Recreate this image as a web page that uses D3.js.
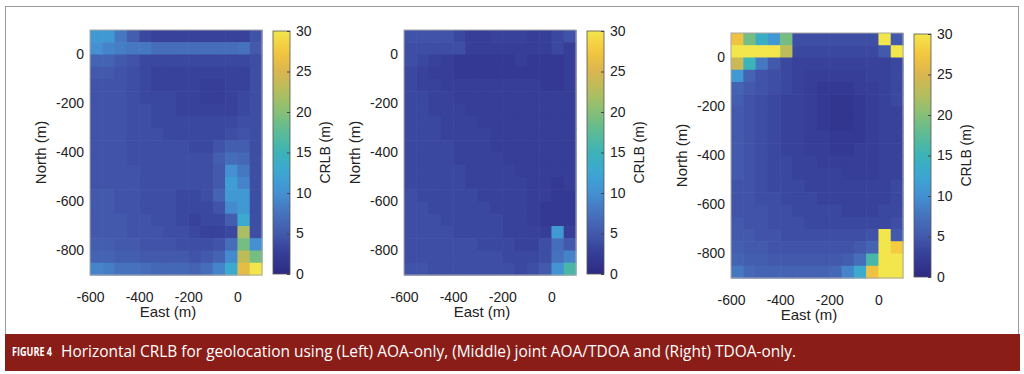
<!DOCTYPE html>
<html>
<head>
<meta charset="utf-8">
<script src="https://cdn.jsdelivr.net/npm/d3@7"></script>
<style>
  html, body { margin: 0; padding: 0; background: #fff; }
  svg { display: block; }
  text { font-family: "Liberation Sans", Arial, sans-serif; fill: #222; }
</style>
</head>
<body>
<svg id="fig" width="1024" height="374"></svg>
<script>
// cell lower-left corners (m)
const eastCells = [-600, -550, -500, -450, -400, -350, -300, -250, -200, -150, -100, -50, 0, 50];
const northCells = [50, 0, -50, -100, -150, -200, -250, -300, -350, -400, -450, -500, -550, -600, -650, -700, -750, -800, -850, -900];

const eastTicks = [-600, -400, -200, 0];
const northTicks = [-800, -600, -400, -200, 0];
const crlbTicks = [0, 5, 10, 15, 20, 25, 30];

// CRLB (m), one row per north cell (top to bottom), one value per east cell
const aoaOnly = [
  [11, 11, 8, 5.5, 3.5, 3, 3, 3, 3, 3, 3, 3, 3, 4.5],
  [10, 9, 8.5, 8, 8, 7, 7, 7, 7, 7, 7, 7, 7.5, 5],
  [6, 6, 5, 4.5, 3.5, 3.5, 3.5, 3.5, 3.5, 3.5, 3.5, 3.5, 3.5, 4],
  [5, 5, 4.5, 4, 3.5, 3, 3, 3, 3, 3, 3, 3, 3, 4],
  [4.5, 4.5, 4.5, 4, 3.5, 3, 3, 3, 3, 2.5, 2.5, 3, 3, 4],
  [4.5, 4.5, 4.5, 4, 3.5, 3.5, 3.5, 3, 3, 2.5, 2.5, 3, 3.5, 4],
  [4.5, 4.5, 4.5, 4, 4, 3.5, 3.5, 3, 3, 3, 3, 3, 3.5, 4],
  [4.5, 4.5, 4.5, 4, 4, 3.5, 3.5, 3.5, 3.5, 3.5, 3.5, 3.5, 4, 4],
  [4.5, 4.5, 4.5, 4, 4, 4, 3.5, 3.5, 3.5, 3.5, 3.5, 4, 4.5, 4],
  [4.5, 4.5, 4.5, 4, 4, 4, 4, 4, 3.5, 3.5, 4.5, 5.5, 5.5, 4],
  [4.5, 4.5, 4.5, 4, 4, 4, 4, 4, 4, 4, 5.5, 7, 6.5, 4],
  [4.5, 4.5, 4.5, 4.5, 4, 4, 4, 4, 4, 4, 5, 10, 8, 4],
  [4.5, 4.5, 4.5, 4.5, 4, 4, 4, 4, 4, 4, 5, 11.5, 9, 4],
  [5, 5, 4.5, 4.5, 4, 4, 4, 3.5, 3.5, 4, 6, 11, 11, 4],
  [5, 5, 4.5, 4.5, 4, 4, 4, 3.5, 3.5, 3.5, 4.5, 9.5, 11, 4],
  [5, 5, 5, 4.5, 4.5, 4, 4, 3.5, 3, 3.5, 3.5, 5.5, 13, 4],
  [5, 5, 5, 4.5, 4.5, 4.5, 4, 4, 3.5, 3, 3, 3.5, 22, 4],
  [5.5, 5.5, 5, 5, 4.5, 4.5, 4.5, 4, 4, 4, 4.5, 7, 19, 10],
  [6, 6, 5.5, 5.5, 5, 5, 5, 5, 4.5, 5, 6, 9.5, 23, 19],
  [9, 8.5, 7.5, 7.5, 7, 6.5, 6.5, 6.5, 6, 7, 9, 13, 26, 30]
];

const jointAoaTdoa = [
  [4.5, 4.5, 4.5, 4.5, 3.5, 2.5, 2.5, 3, 3, 3, 2.5, 2.5, 3.5, 4.5],
  [4, 4, 4, 4, 4, 2.5, 2.5, 2.5, 2.5, 2.5, 2.5, 2.5, 3.5, 2.5],
  [4, 3.5, 3, 2.5, 2, 2, 2, 2, 2, 2.5, 2, 2, 2, 2.5],
  [3.5, 3, 2.5, 2.5, 2, 2, 2, 2, 2, 2, 2, 2, 2, 2.5],
  [3.5, 3, 3, 2.5, 2.5, 2.5, 2.5, 2.5, 2.5, 2.5, 2.5, 2, 2, 2.5],
  [3.5, 3.5, 3, 3, 2.5, 2.5, 2.5, 2.5, 2.5, 2.5, 2.5, 2.5, 2.5, 2.5],
  [3.5, 3.5, 3, 3, 3, 2.5, 2.5, 2.5, 2.5, 2.5, 2.5, 2.5, 2.5, 2.5],
  [3.5, 3.5, 3.5, 3, 3, 3, 2.5, 2.5, 2.5, 2.5, 2.5, 2.5, 2.5, 2.5],
  [3.5, 3.5, 3.5, 3, 3, 3, 3, 2.5, 2.5, 2.5, 2.5, 2.5, 2.5, 2.5],
  [3.5, 3.5, 3.5, 3.5, 3, 3, 3, 2.5, 2.5, 2.5, 2.5, 2.5, 2.5, 2.5],
  [3.5, 3.5, 3.5, 3.5, 3, 3, 3, 3, 2.5, 2.5, 2.5, 2.5, 2.5, 2.5],
  [3.5, 3.5, 3.5, 3.5, 3.5, 3, 3, 3, 3, 2.5, 2.5, 2.5, 2.5, 2.5],
  [3.5, 3.5, 3.5, 3.5, 3.5, 3, 3, 3, 3, 3, 2.5, 2.5, 2, 2.5],
  [4, 3.5, 3.5, 3.5, 3.5, 3.5, 3, 3, 3, 3, 2.5, 2.5, 2, 2],
  [4, 4, 3.5, 3.5, 3.5, 3.5, 3.5, 3, 3, 3, 2.5, 2, 2, 2],
  [4, 4, 4, 3.5, 3.5, 3.5, 3.5, 3.5, 3, 3, 2.5, 2, 2, 2],
  [4, 4, 4, 4, 3.5, 3.5, 3.5, 3.5, 3, 3, 3, 2.5, 11, 2.5],
  [4, 4, 4, 4, 4, 4, 3.5, 3.5, 3.5, 3, 3, 4, 7, 5],
  [4, 4, 4, 4, 4, 4, 4, 4, 3.5, 3.5, 3.5, 4, 7.5, 9],
  [4.5, 4.5, 4, 4, 4, 4, 4, 4, 4, 3.5, 4, 5, 10.5, 16]
];

const tdoaOnly = [
  [27, 19, 14, 11, 19, 4, 4, 4, 4, 4, 4, 4, 32, 5],
  [32, 32, 32, 32, 23, 3.5, 3.5, 3.5, 3.5, 3.5, 3.5, 3.5, 5, 32],
  [24, 15, 8, 5, 3.5, 3, 3, 3, 3, 3, 3, 3, 3, 3.5],
  [11, 6, 4.5, 4, 3.5, 3, 2.5, 2.5, 2.5, 2.5, 2.5, 3, 3, 3.5],
  [6, 5, 4.5, 4, 3.5, 3, 2.5, 2, 2, 2, 2.5, 2.5, 3, 3.5],
  [5.5, 4.5, 4, 3.5, 3, 3, 2.5, 2, 1.5, 1.5, 2, 2.5, 3, 3.5],
  [5, 4.5, 4, 3.5, 3, 3, 2.5, 2, 1.5, 1.5, 2, 2.5, 3, 3],
  [5, 4.5, 4, 3.5, 3, 3, 2.5, 2, 1.5, 1.5, 2, 2.5, 3, 3],
  [5, 4.5, 4, 3.5, 3, 3, 2.5, 2.5, 2, 2, 2, 2.5, 3, 3],
  [5, 4.5, 4, 3.5, 3, 3, 2.5, 2.5, 2, 2, 2.5, 2.5, 3, 3],
  [5, 4.5, 4, 3.5, 3.5, 3, 3, 2.5, 2.5, 2.5, 2.5, 2.5, 3, 3],
  [5, 4.5, 4, 3.5, 3.5, 3, 3, 3, 3, 2.5, 2.5, 2.5, 3, 3],
  [4.5, 4.5, 4, 3.5, 3.5, 3.5, 3, 3, 3, 3, 3, 3, 3, 3.5],
  [4.5, 4.5, 4, 4, 3.5, 3.5, 3.5, 3, 3, 3, 3, 3, 3, 3.5],
  [4.5, 4.5, 4.5, 4, 4, 3.5, 3.5, 3.5, 3.5, 3, 3, 3, 3.5, 3.5],
  [5, 4.5, 4.5, 4, 4, 4, 3.5, 3.5, 3.5, 3.5, 3.5, 3.5, 3.5, 4],
  [5, 5, 4.5, 4.5, 4, 4, 4, 4, 4, 4, 4, 4.5, 32, 5],
  [5.5, 5, 5, 4.5, 4.5, 4.5, 4.5, 4.5, 4.5, 4.5, 5, 6, 32, 28],
  [6, 5.5, 5.5, 5, 5, 5, 5, 5, 5, 5.5, 7, 16, 32, 32],
  [8, 6.5, 6, 6, 6, 6, 6, 6, 6.5, 9, 13, 27, 32, 32]
];

const captionLabel = "FIGURE 4";
const captionText = "Horizontal CRLB for geolocation using (Left) AOA-only, (Middle) joint AOA/TDOA and (Right) TDOA-only.";

// muted parula, as it looks in print
const colour = d3.scaleLinear()
  .domain([0, 3, 5, 7.5, 10, 12.5, 15, 17.5, 20, 22.5, 25, 27.5, 30])
  .range(["#2d2a83", "#38429b", "#4259ac", "#4672bd", "#4490d2", "#3ca6d4", "#3cb3b8",
          "#5cbb96", "#86bf77", "#b4be5e", "#dab64f", "#f4c63e", "#f2e64c"])
  .clamp(true);

// plain hyphen like the original figure
const fmt = d => String(d);

const svg = d3.select('#fig');

// outer frame
svg.append('rect')
  .attr('x', 5.5).attr('y', 6.5)
  .attr('width', 1013).attr('height', 330)
  .attr('fill', 'none')
  .attr('stroke', '#9a9a9a')
  .attr('stroke-width', 1);

const plotW = 172, plotH = 245;

function drawPanel(x0, y0, data, id) {
  const x = d3.scaleLinear().domain([-600, 100]).range([x0, x0 + plotW]);
  const y = d3.scaleLinear().domain([-900, 100]).range([y0 + plotH, y0]);

  const g = svg.append('g');

  // cells
  data.forEach((row, i) => {
    row.forEach((v, j) => {
      const e = eastCells[j], n = northCells[i];
      g.append('rect')
        .attr('x', x(e))
        .attr('y', y(n + 50))
        .attr('width', x(e + 50) - x(e) + 0.6)
        .attr('height', y(n) - y(n + 50) + 0.6)
        .attr('fill', colour(v));
    });
  });

  g.append('rect')
    .attr('x', x0).attr('y', y0)
    .attr('width', plotW).attr('height', plotH)
    .attr('fill', 'none')
    .attr('stroke', '#a8a8a8')
    .attr('stroke-width', 1);

  // axes
  const xAxis = g.append('g')
    .attr('transform', `translate(0,${y0 + plotH})`)
    .call(d3.axisBottom(x).tickValues(eastTicks).tickSize(0).tickPadding(17).tickFormat(fmt));
  xAxis.select('.domain').remove();
  xAxis.selectAll('text').style('font-size', '14px').attr('fill', '#222');

  const yAxis = g.append('g')
    .attr('transform', `translate(${x0},0)`)
    .call(d3.axisLeft(y).tickValues(northTicks).tickSize(0).tickPadding(6).tickFormat(fmt));
  yAxis.select('.domain').remove();
  yAxis.selectAll('text').style('font-size', '14px').attr('fill', '#222');

  g.append('text')
    .attr('x', x0 + plotW / 2 - 8)
    .attr('y', y0 + plotH + 42)
    .attr('text-anchor', 'middle')
    .style('font-size', '15px')
    .text('East (m)');

  g.append('text')
    .attr('transform', `translate(${x0 - 44},${y0 + plotH / 2}) rotate(-90)`)
    .attr('text-anchor', 'middle')
    .style('font-size', '15px')
    .text('North (m)');

  // colorbar
  const cbX = x0 + plotW + 11, cbW = 17;
  const c = d3.scaleLinear().domain([0, 30]).range([y0 + plotH - 1, y0 + 1]);

  const grad = svg.append('defs').append('linearGradient')
    .attr('id', 'cb' + id)
    .attr('x1', 0).attr('y1', 1).attr('x2', 0).attr('y2', 0);
  d3.range(0, 31, 1).forEach(v => {
    grad.append('stop').attr('offset', v / 30).attr('stop-color', colour(v));
  });

  g.append('rect')
    .attr('x', cbX).attr('y', c(30))
    .attr('width', cbW).attr('height', c(0) - c(30))
    .attr('fill', `url(#cb${id})`)
    .attr('stroke', '#555')
    .attr('stroke-width', 0.8);

  const cAxis = g.append('g')
    .attr('transform', `translate(${cbX + cbW},0)`)
    .call(d3.axisRight(c).tickValues(crlbTicks).tickSizeInner(-3).tickSizeOuter(0).tickPadding(6).tickFormat(fmt));
  cAxis.select('.domain').remove();
  cAxis.selectAll('line').attr('stroke', '#444');
  cAxis.selectAll('text').style('font-size', '14px').attr('fill', '#222');

  g.append('text')
    .attr('transform', `translate(${cbX + cbW + 40},${y0 + plotH / 2}) rotate(-90)`)
    .attr('text-anchor', 'middle')
    .style('font-size', '14px')
    .text('CRLB (m)');
}

drawPanel(90, 30, aoaOnly, 'L');
drawPanel(404, 30, jointAoaTdoa, 'M');
drawPanel(731, 33, tdoaOnly, 'R');

// caption bar
svg.append('rect')
  .attr('x', 5).attr('y', 334)
  .attr('width', 1015).attr('height', 37)
  .attr('fill', '#8a1d18');

svg.append('text')
  .attr('x', 12).attr('y', 356)
  .attr('textLength', 40)
  .attr('lengthAdjust', 'spacingAndGlyphs')
  .style('font-family', '"Open Sans", sans-serif')
  .style('font-size', '11.5px')
  .style('font-weight', 'bold')
  .style('fill', '#fff')
  .text(captionLabel);

svg.append('text')
  .attr('x', 61).attr('y', 357)
  .attr('textLength', 735)
  .attr('lengthAdjust', 'spacingAndGlyphs')
  .style('font-family', '"Open Sans", sans-serif')
  .style('font-size', '16px')
  .style('fill', '#fff')
  .text(captionText);
</script>
</body>
</html>
